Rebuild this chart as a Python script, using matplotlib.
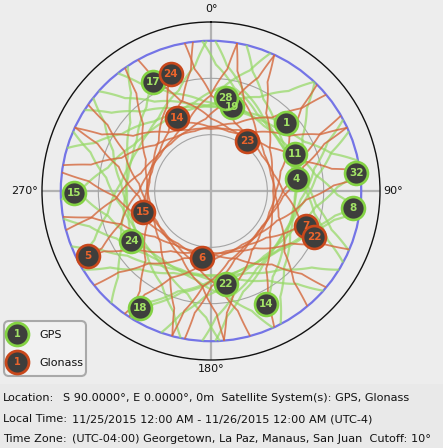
import numpy as np
import matplotlib
matplotlib.use("Agg")
import matplotlib.pyplot as plt
from matplotlib.patches import FancyBboxPatch, Rectangle, Circle

W, H, DPI = 443, 448, 100

# ---------------- data (azimuth deg, elevation deg) ----------------
gps_prn = [17, 19, 28, 1, 11, 32, 4, 8, 15, 24, 22, 14, 18]
gps_az = [332, 14, 9, 48, 66, 83, 82, 97, 269, 238, 171, 154, 211]
gps_el = [24, 44, 40, 36, 41, 12, 44, 14, 17, 40, 40, 23, 17]
# azimuth of highest point of the pass each satellite is on
gps_sat_peak = [280, 1, 39, 10, 94, 141, 72, 154, 214, 268, 201, 102, 156]
# other GPS passes of the day (azimuth of highest point)
gps_extra_peaks = [20, 55, 120, 180, 235, 300, 325, 345, 250, 190, 125, 60]

glo_prn = [24, 14, 23, 7, 22, 15, 5, 6]
glo_az = [341, 335, 36, 110, 114, 253, 242, 188]
glo_el = [24, 47, 57, 36, 30, 52, 16, 54]
glo_sat_peak = [278, 17, 36, 166, 55, 288, 178, 212]
glo_extra_peaks = [0, 90, 110, 130, 150, 240, 260, 320, 345, 75, 195, 230, 305, 125]

# shape of one pass: azimuth offset from the highest point vs elevation
gps_pass_daz = [-58.4, -52.8, -42.3, -24.6, -12.9, 0, 12.9, 24.6, 42.3, 52.8, 58.4]
gps_pass_el = [10, 22.6, 33.7, 42.0, 44.4, 45.3, 44.4, 42.0, 33.7, 22.6, 10]
glo_pass_daz = [-65.1, -62.6, -54.7, -35.8, -19.7, 0, 19.7, 35.8, 54.7, 62.6, 65.1]
glo_pass_el = [10, 24.6, 39.2, 51.5, 55.5, 57, 55.5, 51.5, 39.2, 24.6, 10]

cutoff = 10
theta_labels = ["0°", "90°", "180°", "270°"]
info_labels = ["Location:", "Local Time:", "Time Zone:"]
info_values = [
    "S 90.0000°, E 0.0000°, 0m  Satellite System(s): GPS, Glonass",
    "11/25/2015 12:00 AM - 11/26/2015 12:00 AM (UTC-4)",
    "(UTC-04:00) Georgetown, La Paz, Manaus, San Juan  Cutoff: 10°",
]
legend_names = ["GPS", "Glonass"]

# ---------------- styles ----------------
BG = "#ededed"
GPS_LINE = "#96d966"
GLO_LINE = "#d4683c"
MK_FACE = "#3e3e3c"
GPS_EDGE = "#84d244"
GLO_EDGE = "#c8481c"
GPS_TXT = "#a2e266"
GLO_TXT = "#ea642c"


def px(x, y):
    return x / W, 1 - y / H


fig = plt.figure(figsize=(W / DPI, H / DPI), dpi=DPI, facecolor=BG)

cx, cy, R = 211, 191, 169
ax = fig.add_axes([(cx - R) / W, (H - cy - R) / H, 2 * R / W, 2 * R / H],
                  projection="polar")
ax.set_facecolor("none")
ax.set_theta_zero_location("N")
ax.set_theta_direction(-1)
ax.set_rlim(0, 90)
ax.set_rticks([30, 60])
ax.set_yticklabels([])
ax.set_xticks(np.deg2rad([0, 90, 180, 270]))
ax.set_xticklabels([])
ax.tick_params(length=0)
ax.xaxis.grid(True, color="#b2b2b2", lw=1.6)
ax.yaxis.grid(True, color="#a4a4a4", lw=0.8)
ax.spines["polar"].set_color("#111111")
ax.spines["polar"].set_linewidth(1.0)
ax.set_axisbelow(True)

# cutoff circle
ax.add_patch(Circle((0.5, 0.5), 0.5 * (90 - cutoff) / 90, transform=ax.transAxes,
                    fill=False, ec="#7474e6", lw=1.6, zorder=1.5))


def pass_points(peak, daz, el, start=None):
    pts = list(zip([peak + d for d in daz], el))
    if start is not None:
        dm = (start[0] - peak + 180) % 360 - 180
        if dm < 0:
            pts = [(peak + dm, start[1])] + [(peak + d, e) for d, e in zip(daz, el) if d > dm]
        else:
            pts = [(peak + d, e) for d, e in zip(daz, el) if d < dm] + [(peak + dm, start[1])]
    return pts


def draw_track(pts, color, lw, alpha):
    az = np.deg2rad([p[0] for p in pts])
    r = [90 - p[1] for p in pts]
    ln, = ax.plot(az, r, color=color, lw=lw, alpha=alpha, solid_capstyle="butt",
                  solid_joinstyle="round", zorder=2)
    ln.get_path()._interpolation_steps = 12


for pk, a, e in zip(gps_sat_peak, gps_az, gps_el):
    draw_track(pass_points(pk, gps_pass_daz, gps_pass_el, (a, e)), GPS_LINE, 1.6, 0.72)
for pk in gps_extra_peaks:
    draw_track(pass_points(pk, gps_pass_daz, gps_pass_el), GPS_LINE, 1.6, 0.72)
for pk, a, e in zip(glo_sat_peak, glo_az, glo_el):
    draw_track(pass_points(pk, glo_pass_daz, glo_pass_el, (a, e)), GLO_LINE, 1.3, 0.8)
for pk in glo_extra_peaks:
    draw_track(pass_points(pk, glo_pass_daz, glo_pass_el), GLO_LINE, 1.3, 0.8)
ax.set_rlim(0, 90)

ms = 16.5
for p, a, e in zip(gps_prn, gps_az, gps_el):
    ax.plot(np.deg2rad(a), 90 - e, "o", ms=ms, mfc=MK_FACE, mec=GPS_EDGE, mew=1.9, zorder=5)
    ax.text(np.deg2rad(a), 90 - e, str(p), color=GPS_TXT, fontsize=7.5, fontweight="bold",
            ha="center", va="center", zorder=6)
for p, a, e in zip(glo_prn, glo_az, glo_el):
    ax.plot(np.deg2rad(a), 90 - e, "o", ms=ms, mfc=MK_FACE, mec=GLO_EDGE, mew=1.9, zorder=5)
    ax.text(np.deg2rad(a), 90 - e, str(p), color=GLO_TXT, fontsize=7.5, fontweight="bold",
            ha="center", va="center", zorder=6)

# theta labels
lab_pos = [(0, 96.9, "center", "center"), (90, 91.6, "left", "center"),
           (180, 94.8, "center", "center"), (270, 92.1, "right", "center")]
for (t, r, ha, va), s in zip(lab_pos, theta_labels):
    ax.text(np.deg2rad(t), r, s, fontsize=8, ha=ha, va=va, clip_on=False, color="#111111")

# info panel
fig.patches.append(Rectangle(px(0, 448), 1, 64 / H, transform=fig.transFigure,
                             fc="#e9e9e9", ec="none", zorder=0))
ys = [398, 419, 439]
vx = [63, 72, 72]
for lab, val, y, x in zip(info_labels, info_values, ys, vx):
    fig.text(*px(3, y), lab, fontsize=8.1, va="center", ha="left", color="#111111")
    fig.text(*px(x, y), val, fontsize=8.1, va="center", ha="left", color="#111111")

# legend
lax = fig.add_axes([0, 0, 1, 1], facecolor="none")
lax.set_xlim(0, W)
lax.set_ylim(H, 0)
lax.axis("off")
lax.add_patch(FancyBboxPatch((4, 321), 82, 55, boxstyle="round,pad=0,rounding_size=5",
                             fc="#f1f1f1", ec="#a9a9a9", lw=1.5))
leg_y = [334, 362]
for y, name, edge, tc in zip(leg_y, legend_names, [GPS_EDGE, GLO_EDGE], [GPS_TXT, GLO_TXT]):
    lax.plot(17, y, "o", ms=16.5, mfc=MK_FACE, mec=edge, mew=2)
    lax.text(17, y, "1", color=tc, fontsize=7, fontweight="bold", ha="center", va="center")
    lax.text(39, y + 1, name, fontsize=8, ha="left", va="center", color="#111111")

fig.savefig("out.png", dpi=DPI, facecolor=BG)
